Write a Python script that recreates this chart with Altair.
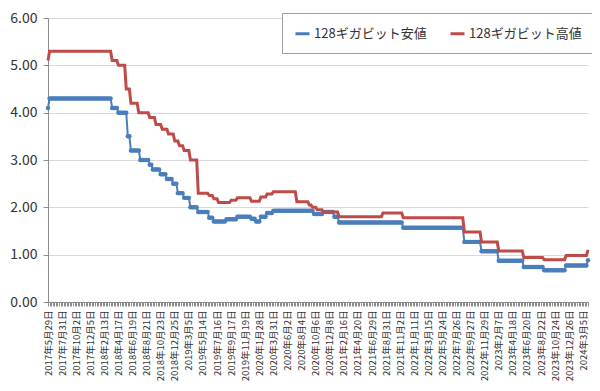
import json
import altair as alt
import pandas as pd

# x-axis tick labels (every 9th weekly point)
x_labels = ["2017年5月29日", "2017年7月31日", "2017年10月2日", "2017年12月5日",
            "2018年2月13日", "2018年4月17日", "2018年6月19日", "2018年8月21日",
            "2018年10月23日", "2018年12月25日", "2019年3月5日", "2019年5月14日",
            "2019年7月16日", "2019年9月17日", "2019年11月19日", "2020年1月28日",
            "2020年3月31日", "2020年6月2日", "2020年8月4日", "2020年10月6日",
            "2020年12月8日", "2021年2月16日", "2021年4月20日", "2021年6月29日",
            "2021年8月31日", "2021年11月2日", "2022年1月11日", "2022年3月15日",
            "2022年5月24日", "2022年7月26日", "2022年9月27日", "2022年11月29日",
            "2023年2月7日", "2023年4月18日", "2023年6月20日", "2023年8月22日",
            "2023年10月24日", "2023年12月26日", "2024年3月5日"]
label_step = 9

low_name = "128ギガビット安値"
high_name = "128ギガビット高値"

# price levels, with the number of weekly points at each level
low_levels = [4.1, 4.3, 4.1, 4.0, 3.5, 3.2, 3.0, 2.9, 2.8, 2.7, 2.6, 2.5, 2.3, 2.2,
              2.0, 1.9, 1.78, 1.7, 1.75, 1.8, 1.76, 1.7, 1.8, 1.88, 1.93, 1.86, 1.9,
              1.8, 1.68, 1.57, 1.27, 1.07, 0.87, 0.74, 0.67, 0.77, 0.88]
low_runs = [1, 40, 4, 6, 2, 6, 6, 2, 5, 4, 4, 3, 4, 4,
            5, 7, 3, 8, 7, 9, 3, 3, 4, 4, 26, 6, 7,
            3, 41, 39, 11, 11, 16, 13, 14, 14, 1]

high_levels = [5.1, 5.3, 5.1, 5.0, 4.5, 4.2, 4.0, 3.9, 3.75, 3.65, 3.55, 3.4, 3.3,
               3.2, 3.0, 2.3, 2.25, 2.18, 2.1, 2.15, 2.2, 2.13, 2.22, 2.28, 2.33,
               2.12, 2.05, 2.0, 1.95, 1.9, 1.8, 1.88, 1.78, 1.48, 1.27, 1.08, 0.94,
               0.89, 0.98, 1.1]
high_runs = [1, 40, 4, 5, 3, 5, 7, 4, 4, 4, 4, 3, 3,
             4, 5, 7, 3, 3, 8, 4, 9, 6, 4, 4, 15,
             8, 2, 3, 4, 10, 28, 13, 39, 11, 11, 16, 13,
             14, 14, 1]


def expand(levels, runs):
    out = []
    for v, n in zip(levels, runs):
        out += [v] * n
    return out


low = expand(low_levels, low_runs)
high = expand(high_levels, high_runs)
N = len(low)

rows = [{"i": i, "s": low_name, "v": v} for i, v in enumerate(low)]
rows += [{"i": i, "s": high_name, "v": v} for i, v in enumerate(high)]
df = pd.DataFrame(rows)

FONT = "Noto Sans CJK JP"
arr = json.dumps(x_labels, ensure_ascii=False)
label_expr = f"datum.value % {label_step} == 0 ? {arr}[datum.value / {label_step}] : ''"

x_enc = alt.X("i:Q",
              scale=alt.Scale(domain=[0, N - 1], nice=False, zero=False),
              axis=alt.Axis(values=list(range(N)), labelExpr=label_expr,
                            labelAngle=-90, labelOverlap=False, labelBound=False,
                            labelFlush=False, labelFontSize=9.5, labelPadding=4,
                            tickSize=4, tickColor="#8c8c8c", domainColor="#8c8c8c",
                            labelColor="#333333", grid=False, title=None))
y_enc = alt.Y("v:Q",
              scale=alt.Scale(domain=[0, 6], nice=False, zero=True),
              axis=alt.Axis(values=[0, 1, 2, 3, 4, 5, 6], format=".2f",
                            gridColor="#d9d9d9", domainColor="#8c8c8c",
                            tickSize=5, tickColor="#8c8c8c", labelFontSize=14,
                            labelPadding=6, labelColor="#333333", title=None))
color_scale = alt.Scale(domain=[low_name, high_name], range=["#4a7ebb", "#be4b48"])
legend = alt.Legend(title=None, orient="none", legendX=234, legendY=-5,
                    direction="horizontal", fillColor="white", strokeColor="#a0a0a0",
                    padding=12, labelFontSize=13, labelFont=FONT, labelColor="#333333",
                    symbolType="stroke", symbolSize=196, symbolStrokeWidth=3,
                    columnPadding=17, labelOffset=3)
color_enc = alt.Color("s:N", scale=color_scale, legend=legend)

base = alt.Chart(df)
low_line = base.transform_filter(alt.datum.s == low_name).mark_line(
    strokeWidth=2).encode(x=x_enc, y=y_enc, color=color_enc)
low_pts = base.transform_filter(alt.datum.s == low_name).mark_point(
    filled=True, size=20, opacity=1).encode(x=x_enc, y=y_enc, color=color_enc)
high_line = base.transform_filter(alt.datum.s == high_name).mark_line(
    strokeWidth=3).encode(x=x_enc, y=y_enc, color=color_enc)

chart = alt.layer(low_line, low_pts, high_line).properties(
    width=540, height=284,
    padding={"left": 40, "top": 10, "right": 4, "bottom": 81},
    autosize=alt.AutoSizeParams(type="none"),
    background="white",
).configure(font=FONT).configure_view(stroke=None)

chart.save("out.html", embed_options={"renderer": "svg", "actions": False})
